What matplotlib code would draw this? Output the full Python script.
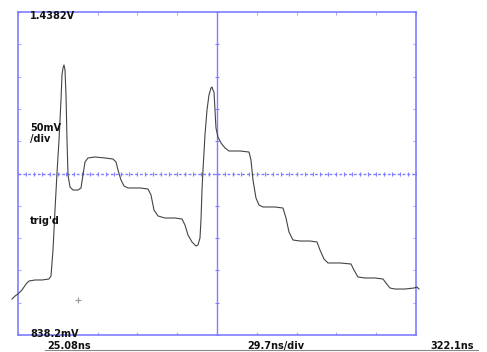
import numpy as np
import matplotlib
matplotlib.use("Agg")
from matplotlib import pyplot as plt
from matplotlib.lines import Line2D

# scope trace, time in ns, level in mV
t_ns = [20.60, 22.84, 25.08, 28.06, 31.05, 33.29, 37.77, 42.99, 48.21, 49.71,
        51.20, 52.69, 54.18, 55.68, 57.17, 57.91, 58.66, 59.41, 60.15, 60.90,
        61.65, 62.39, 63.88, 66.12, 69.85, 72.09, 73.58, 75.08, 77.32, 82.54,
        90.00, 95.97, 98.21, 99.70, 101.94, 104.18, 107.17, 116.12, 122.09, 124.33,
        126.57, 129.55, 134.78, 142.24, 147.46, 149.70, 151.94, 154.92, 157.91, 159.40,
        160.89, 161.64, 162.39, 163.13, 164.63, 166.12, 167.61, 169.10, 169.85, 170.60,
        171.34, 172.09, 172.83, 174.33, 176.57, 179.55, 182.54, 190.75, 197.46, 198.95,
        200.44, 202.68, 204.92, 207.91, 216.86, 222.83, 225.07, 227.31, 230.29, 235.52,
        242.98, 248.20, 250.44, 253.43, 256.41, 265.37, 273.58, 275.81, 278.80, 284.02,
        291.48, 297.45, 299.69, 302.67, 306.41, 313.87, 320.59, 322.83, 324.32]
v_mv = [905.1, 910.6, 914.4, 921.8, 932.9, 938.5, 940.4, 940.4, 942.2, 947.8,
        996.1, 1070.4, 1139.1, 1200.4, 1274.7, 1321.2, 1334.2, 1339.8, 1330.5, 1284.0,
        1200.4, 1135.4, 1113.1, 1107.5, 1107.5, 1111.3, 1135.4, 1159.6, 1167.0, 1168.9,
        1167.0, 1165.1, 1159.6, 1144.7, 1126.1, 1115.0, 1111.3, 1111.3, 1109.4, 1098.3,
        1070.4, 1059.3, 1055.5, 1055.5, 1053.7, 1042.5, 1024.0, 1011.0, 1003.5, 1005.4,
        1018.4, 1051.8, 1107.5, 1144.7, 1209.7, 1256.2, 1284.0, 1297.0, 1298.9, 1293.3,
        1289.6, 1256.2, 1222.7, 1206.0, 1194.9, 1185.6, 1180.0, 1180.0, 1178.1, 1163.3,
        1126.1, 1092.7, 1079.7, 1076.0, 1076.0, 1074.1, 1055.5, 1029.5, 1014.7, 1012.8,
        1012.8, 1011.0, 996.1, 979.4, 972.0, 972.0, 970.1, 958.9, 945.9, 944.1,
        944.1, 942.2, 934.8, 925.5, 923.6, 923.6, 925.5, 927.4, 923.6]

t_start, t_stop = 25.08, 322.1
v_bot, v_top = 838.2, 1438.2
marker_t, marker_v = 69.85, 903.2

blue = "#7f7fff"
tick_blue = "#a8a8ff"

fig = plt.figure(figsize=(4.87, 3.52), dpi=100)
ax = fig.add_axes([18 / 487, 17 / 352, 398 / 487, 323 / 352])
ax.set_xlim(t_start, t_stop)
ax.set_ylim(v_bot, v_top)

for s in ax.spines.values():
    s.set_color(blue)
    s.set_linewidth(1.2)

xdiv = np.linspace(t_start, t_stop, 11)
ydiv = np.linspace(v_bot, v_top, 11)
ax.set_xticks(xdiv)
ax.set_yticks(ydiv)
ax.tick_params(which="both", direction="in", length=2.5, color=tick_blue,
               top=True, right=True, labelbottom=False, labelleft=False)

t_mid = (t_start + t_stop) / 2
v_mid = (v_bot + v_top) / 2
ax.axvline(t_mid, color=blue, lw=1.0)
ax.axhline(v_mid, color=blue, lw=1.0, ls=(0, (2, 1.5)))

# small ticks on the centre cross
xminor = np.linspace(t_start, t_stop, 51)
ax.plot(xminor, np.full(len(xminor), v_mid), ls="none", marker="|",
        ms=3, color=blue, mew=0.8)
ax.plot(np.full(len(ydiv), t_mid), ydiv, ls="none", marker="_",
        ms=3, color=blue, mew=0.8)

ax.plot(t_ns, v_mv, color="#444444", lw=0.8, clip_on=False, zorder=5)
ax.plot(marker_t, marker_v, marker="+", color="#999999", ms=4, mew=0.8)

kw = dict(fontsize=7, fontweight="bold", color="#111111")
fig.text(30 / 487, 1 - 19 / 352, "1.4382V", **kw)
fig.text(30 / 487, 1 - 131 / 352, "50mV", **kw)
fig.text(30 / 487, 1 - 142 / 352, "/div", **kw)
fig.text(30 / 487, 1 - 224 / 352, "trig'd", **kw)
fig.text(30 / 487, 1 - 337 / 352, "838.2mV", **kw)
fig.text(47 / 487, 1 - 349 / 352, "25.08ns", **kw)
fig.text(247 / 487, 1 - 349 / 352, "29.7ns/div", **kw)
fig.text(430 / 487, 1 - 349 / 352, "322.1ns", **kw)

fig.add_artist(Line2D([45 / 487, 478 / 487], [2 / 352, 2 / 352],
                      color="#888888", lw=0.8))

fig.savefig("out.png", dpi=100)
